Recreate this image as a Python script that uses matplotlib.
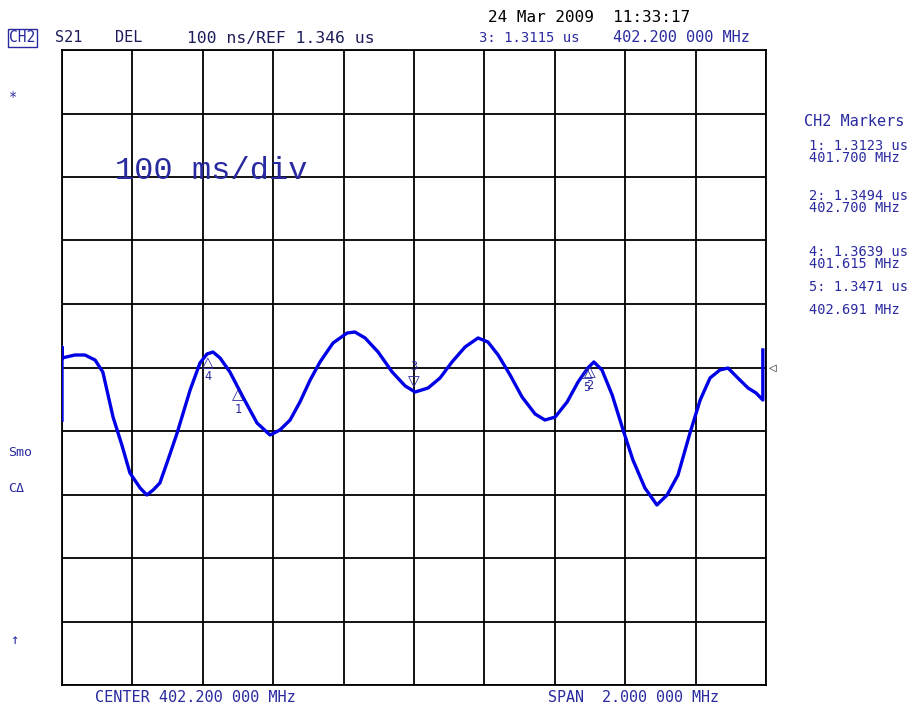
import matplotlib
matplotlib.use('Agg')
import matplotlib.pyplot as plt
import numpy as np

# trace: frequency (MHz) vs group delay (us)
freq_mhz = [401.200, 401.200, 401.200, 401.237, 401.265, 401.294, 401.316, 401.345, 401.370,
            401.393, 401.422, 401.441, 401.459, 401.478, 401.501, 401.527, 401.564, 401.592,
            401.612, 401.629, 401.649, 401.677, 401.714, 401.754, 401.791, 401.819, 401.848,
            401.876, 401.905, 401.933, 401.970, 402.010, 402.032, 402.061, 402.098, 402.138,
            402.175, 402.203, 402.240, 402.274, 402.308, 402.345, 402.382, 402.410, 402.439,
            402.473, 402.507, 402.544, 402.572, 402.601, 402.635, 402.666, 402.694, 402.711,
            402.734, 402.763, 402.794, 402.822, 402.856, 402.890, 402.919, 402.950, 402.984,
            403.013, 403.041, 403.069, 403.092, 403.120, 403.149, 403.172, 403.191, 403.191]
delay_us = [1.2630, 1.3780, 1.3610, 1.3657, 1.3657, 1.3578, 1.3389, 1.2680, 1.2240,
            1.1799, 1.1562, 1.1452, 1.1531, 1.1641, 1.2003, 1.2428, 1.3106, 1.3531,
            1.3673, 1.3704, 1.3610, 1.3389, 1.2995, 1.2586, 1.2397, 1.2476, 1.2633,
            1.2917, 1.3263, 1.3547, 1.3846, 1.4003, 1.4019, 1.3925, 1.3704, 1.3389,
            1.3169, 1.3074, 1.3137, 1.3295, 1.3547, 1.3783, 1.3925, 1.3862, 1.3657,
            1.3342, 1.2995, 1.2728, 1.2633, 1.2680, 1.2917, 1.3232, 1.3453, 1.3547,
            1.3421, 1.3027, 1.2476, 1.2003, 1.1562, 1.1295, 1.1452, 1.1767, 1.2428,
            1.2948, 1.3295, 1.3421, 1.3452, 1.3295, 1.3137, 1.3058, 1.2948, 1.3736]

marker_ids = [1, 2, 3, 4, 5]
marker_freq = [401.700, 402.700, 402.200, 401.615, 402.691]
marker_delay = [1.3123, 1.3494, 1.3115, 1.3639, 1.3471]
panel_ids = [1, 2, 4, 5]

center = 402.2
span = 2.0
ref = 1.346
per_div = 0.1

blue = '#0000e6'
txtblue = '#2a2aa0'
navy = '#1c1c5a'
mono = 'DejaVu Sans Mono'

fig = plt.figure(figsize=(9.1, 7.06), dpi=100)
ax = fig.add_axes([62 / 910, 1 - 685 / 706, 704 / 910, 635 / 706])
ax.set_xlim(center - span / 2, center + span / 2)
ax.set_ylim(ref - 5 * per_div, ref + 5 * per_div)
ax.set_xticks(np.linspace(center - span / 2, center + span / 2, 11))
ax.set_yticks(np.linspace(ref - 5 * per_div, ref + 5 * per_div, 11))
ax.tick_params(length=0, labelbottom=False, labelleft=False)
ax.grid(True, color='black', linewidth=1.3)
for s in ax.spines.values():
    s.set_linewidth(1.3)

ax.plot(freq_mhz, delay_us, color=blue, linewidth=2.4, zorder=3)

# markers
for mid, f, d in zip(marker_ids, marker_freq, marker_delay):
    if mid == 3:
        ax.annotate('▽', (f, d), xytext=(0, 0), textcoords='offset points',
                    ha='center', va='bottom', color=txtblue, fontsize=11, family='DejaVu Sans', zorder=4)
        ax.annotate('3', (f, d), xytext=(0, 12), textcoords='offset points',
                    ha='center', va='bottom', color=txtblue, fontsize=8.5, family=mono, zorder=4)
    else:
        ax.annotate('△', (f, d), xytext=(0, 1), textcoords='offset points',
                    ha='center', va='top', color=txtblue, fontsize=11, family='DejaVu Sans', zorder=4)
        ax.annotate(str(mid), (f, d), xytext=(0, -10), textcoords='offset points',
                    ha='center', va='top', color=txtblue, fontsize=8.5, family=mono, zorder=4)

# reference level pointer
ax.annotate('◁', (center + span / 2, ref), xytext=(2, 0), textcoords='offset points',
            ha='left', va='center', color='black', fontsize=7, family='DejaVu Sans',
            annotation_clip=False)

ax.text(0.075, 0.81, '100 ms/div', transform=ax.transAxes, color=txtblue,
        fontsize=23, family='Liberation Mono', va='center', ha='left')

# header
def ftext(x, y, s, **kw):
    kw.setdefault('family', mono)
    kw.setdefault('fontsize', 11)
    kw.setdefault('va', 'center')
    kw.setdefault('ha', 'left')
    fig.text(x / 910, 1 - y / 706, s, **kw)

ftext(488, 17, '24 Mar 2009  11:33:17', color='black', fontsize=11.5)
ftext(9, 38, 'CH2', color=txtblue, fontsize=10.5,
      bbox=dict(boxstyle='square,pad=0.1', facecolor='white', edgecolor=txtblue, linewidth=1))
ftext(55, 38, 'S21', color=navy)
ftext(115, 38, 'DEL', color=navy)
ftext(187, 38, '100 ns/REF 1.346 us', color=navy, fontsize=11.8)
ftext(479, 38, '3: 1.3115 us', color=txtblue, fontsize=10)
ftext(613, 38, '402.200 000 MHz', color=txtblue, fontsize=11)

# marker panel
ftext(804, 121, 'CH2 Markers', color=txtblue, fontsize=11)
panel_rows = [(146, 158), (196, 208), (252, 264), (287, 310)]
for mid, (y1, y2) in zip(panel_ids, panel_rows):
    i = marker_ids.index(mid)
    ftext(809, y1, f'{mid}: {marker_delay[i]:.4f} us', color=txtblue, fontsize=9.8)
    ftext(809, y2, f'{marker_freq[i]:.3f} MHz', color=txtblue, fontsize=9.8)

# left side annotations
ftext(9, 97, '*', color=txtblue, fontsize=10)
ftext(8, 452, 'Smo', color=txtblue, fontsize=9.5)
ftext(8, 488, 'CΔ', color=txtblue, fontsize=9.5)
ftext(10, 640, '↑', color=txtblue, fontsize=10)

# footer
ftext(95, 697, f'CENTER {center:.3f} 000 MHz', color=txtblue, fontsize=11)
ftext(548, 697, f'SPAN  {span:.3f} 000 MHz', color=txtblue, fontsize=10.8)

fig.savefig('out.png', dpi=100)
